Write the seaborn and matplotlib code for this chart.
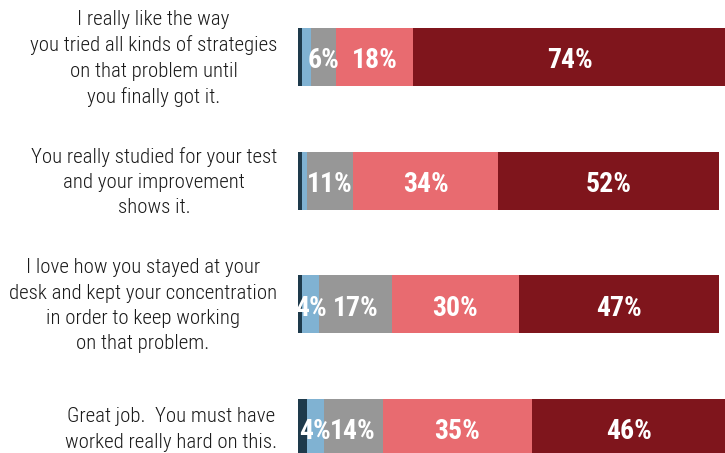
import numpy as np
import pandas as pd
import matplotlib
matplotlib.use("Agg")
import matplotlib.pyplot as plt
from matplotlib import font_manager
import seaborn as sns

# Statements (one bar each) and share of responses per level, in percent
statements = [
    "I really like the way\nyou tried all kinds of strategies\non that problem until\nyou finally got it.",
    "You really studied for your test\nand your improvement\nshows it.",
    "I love how you stayed at your\ndesk and kept your concentration\nin order to keep working\non that problem.",
    "Great job.  You must have\nworked really hard on this.",
]
levels = ["Strongly disagree", "Disagree", "Neutral", "Agree", "Strongly agree"]
strongly_disagree = [1, 1, 1, 2]
disagree = [2, 1, 4, 4]
neutral = [6, 11, 17, 14]
agree = [18, 34, 30, 35]
strongly_agree = [74, 52, 47, 46]

level_colors = ["#1e3a4b", "#80b2d2", "#979797", "#e86b70", "#7f151c"]

series = [strongly_disagree, disagree, neutral, agree, strongly_agree]

# Long table with the running (stacked) total for every segment
rows = []
for s_idx, stmt in enumerate(statements):
    left = 0
    for lvl, vals in zip(levels, series):
        v = vals[s_idx]
        rows.append({"statement": stmt, "level": lvl, "value": v,
                     "left": left, "cum": left + v})
        left += v
df = pd.DataFrame(rows)

# Pick a narrow face when one is available
names = {f.name for f in font_manager.fontManager.ttflist}
if "Roboto Condensed" in names:
    txt_family, txt_weight, txt_size, pct_size = "Roboto Condensed", "light", 15, 20
elif "Liberation Sans Narrow" in names:
    txt_family, txt_weight, txt_size, pct_size = "Liberation Sans Narrow", "normal", 14, 19.5
else:
    txt_family, txt_weight, txt_size, pct_size = "Roboto", "light", 11.5, 18

sns.set_theme(style="white")
plt.rcParams["font.family"] = [txt_family, "DejaVu Sans"]

fig = plt.figure(figsize=(7.25, 4.53), dpi=100)
ax = fig.add_axes([298 / 725, 0, 427 / 725, 1])

# Draw totals from the widest down so each shorter bar sits on top
for lvl, color in reversed(list(zip(levels, level_colors))):
    sub = df[df["level"] == lvl]
    sns.barplot(data=sub, x="cum", y="statement", order=statements,
                color=color, orient="h", width=0.47, errorbar=None,
                saturation=1, linewidth=0, ax=ax)

# Percent labels centred in each segment
for _, r in df.iterrows():
    if r["value"] >= 4:
        y = statements.index(r["statement"])
        ax.text(r["left"] + r["value"] / 2, y + 0.03, f"{r['value']}%",
                ha="center", va="center", color="white",
                fontsize=pct_size, fontweight="bold", family=[txt_family, "DejaVu Sans"])

ax.set_xlim(0, 427 / 4.25)
ax.set_ylim(3.202, -0.461)
ax.set_xlabel("")
ax.set_ylabel("")
ax.set_xticks([])
# Statement text sits a touch above each bar's centre
ax.set_yticks(np.arange(len(statements)) - 0.03, labels=statements)
ax.tick_params(axis="y", length=0, pad=15)
for lbl in ax.get_yticklabels():
    lbl.set_multialignment("center")
    lbl.set_linespacing(1.42)
    lbl.set_fontsize(txt_size)
    lbl.set_fontweight(txt_weight)
    lbl.set_color("#1a1a1a")
for sp in ax.spines.values():
    sp.set_visible(False)

fig.savefig("out.png", dpi=100)
